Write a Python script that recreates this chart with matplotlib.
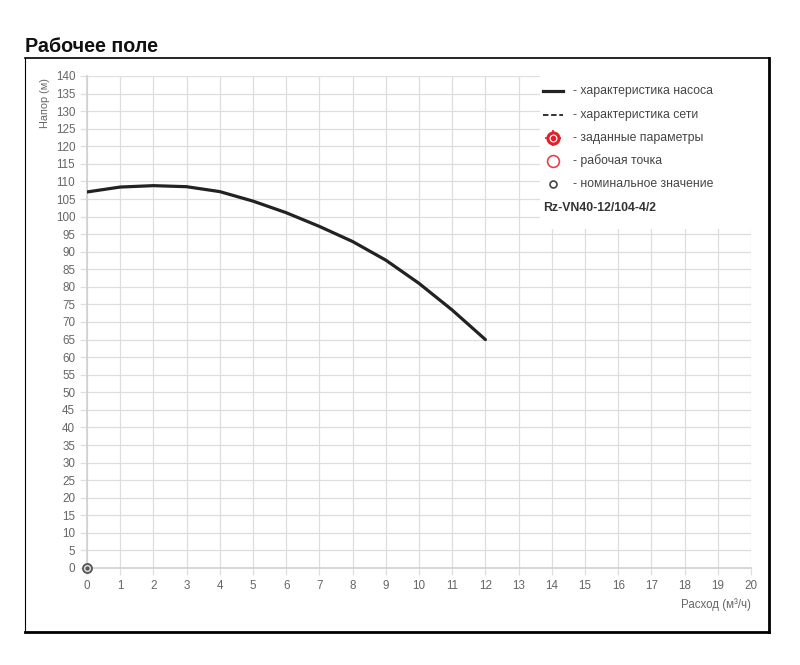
import matplotlib
matplotlib.use('Agg')
import matplotlib.pyplot as plt
from matplotlib.lines import Line2D
from matplotlib.patches import Rectangle

plt.rcParams['font.family'] = ['Liberation Sans', 'DejaVu Sans']

# данные
flow = [0, 1, 2, 3, 4, 5, 6, 7, 8, 9, 10, 11, 12]
head = [107.0, 108.4, 108.8, 108.5, 107.1, 104.4, 101.1, 97.2, 92.9, 87.6, 81.0, 73.4, 65.0]
nominal_q = [0]
nominal_h = [0]
model = 'Rz-VN40-12/104-4/2'
legend_labels = ['- характеристика насоса', '- характеристика сети', '- заданные параметры',
                 '- рабочая точка', '- номинальное значение']

W, H = 800, 665


def fx(px):
    return px / W


def fy(py):
    return 1 - py / H


fig = plt.figure(figsize=(8, 6.65), dpi=100)
ax = fig.add_axes([fx(87), fy(568), fx(751) - fx(87), fy(76) - fy(568)])

ax.plot(flow, head, color='#222222', lw=2.3, solid_joinstyle='round', solid_capstyle='round', zorder=3)
ax.plot(nominal_q, nominal_h, 'o', ms=6.5, mfc='#dddddd', mec='#555555', mew=1.3, zorder=4, clip_on=False)
ax.plot(nominal_q, nominal_h, 'o', ms=2, color='#555555', zorder=5, clip_on=False)

ax.set_xlim(0, 20)
ax.set_ylim(0, 140)
ax.set_xticks(range(0, 21))
ax.set_yticks(range(0, 141, 5))
ax.grid(True, color='#dedede', lw=0.9)
ax.set_axisbelow(True)
for s in ['top', 'right']:
    ax.spines[s].set_visible(False)
for s in ['left', 'bottom']:
    ax.spines[s].set_color('#d0d0d0')
    ax.spines[s].set_linewidth(1.2)
ax.tick_params(colors='#dedede', labelcolor='#666666', labelsize=8.4, length=5, width=0.9)

# белая подложка легенды
fig.patches.append(Rectangle((fx(540), fy(229)), fx(760) - fx(540), fy(70) - fy(229),
                             transform=fig.transFigure, facecolor='white', edgecolor='none', zorder=2))

# легенда
rows = [91, 115, 138, 161, 184]
hx = 553
fig.lines.append(Line2D([fx(543), fx(563)], [fy(91)] * 2, color='#222222', lw=2.3, transform=fig.transFigure, zorder=3))
fig.lines.append(Line2D([fx(543), fx(563)], [fy(115)] * 2, color='#222222', lw=1.3, ls=(0, (3, 1.5)),
                        transform=fig.transFigure, zorder=3))
fig.lines.append(Line2D([fx(hx)], [fy(138)], marker='o', ms=8, mfc='white', mec='#e0202a', mew=2.2,
                        transform=fig.transFigure, zorder=3))
fig.lines.append(Line2D([fx(hx)], [fy(138)], marker='o', ms=3, color='#e0202a', transform=fig.transFigure, zorder=4))
fig.lines.append(Line2D([fx(hx)], [fy(138)], marker='+', ms=12, mew=1.2, color='#e0202a',
                        transform=fig.transFigure, zorder=2.5))
fig.lines.append(Line2D([fx(hx)], [fy(161)], marker='o', ms=8.5, mfc='white', mec='#e8404a', mew=1.2,
                        transform=fig.transFigure, zorder=3))
fig.lines.append(Line2D([fx(hx)], [fy(184)], marker='o', ms=5, mfc='white', mec='#444444', mew=1.2,
                        transform=fig.transFigure, zorder=3))
for r, lab in zip(rows, legend_labels):
    fig.text(fx(573), fy(r), lab, fontsize=8.8, color='#444444', va='center', ha='left', zorder=3)
fig.text(fx(543), fy(208), model, fontsize=8.8, color='#333333', weight='bold', va='center', ha='left', zorder=3)

# подписи осей
fig.text(fx(45), fy(103), 'Напор (м)', rotation=90, fontsize=7.8, color='#666666', ha='center', va='center')
fig.text(fx(751), fy(605), 'Расход (м³/ч)', fontsize=8.3, color='#666666', ha='right', va='center')

# рамка и заголовок
fig.lines.append(Line2D([fx(25), fx(769)], [fy(58)] * 2, color='black', lw=1.2, transform=fig.transFigure))
fig.lines.append(Line2D([fx(25), fx(25)], [fy(58), fy(632)], color='black', lw=0.8, transform=fig.transFigure))
fig.lines.append(Line2D([fx(769), fx(769)], [fy(58), fy(632)], color='black', lw=2, transform=fig.transFigure))
fig.lines.append(Line2D([fx(25), fx(769)], [fy(632)] * 2, color='black', lw=2, transform=fig.transFigure))
fig.text(fx(25), fy(46), 'Рабочее поле', fontsize=14.2, weight='bold', color='#111111', ha='left', va='center')

fig.savefig('out.png', dpi=100, facecolor='white')
